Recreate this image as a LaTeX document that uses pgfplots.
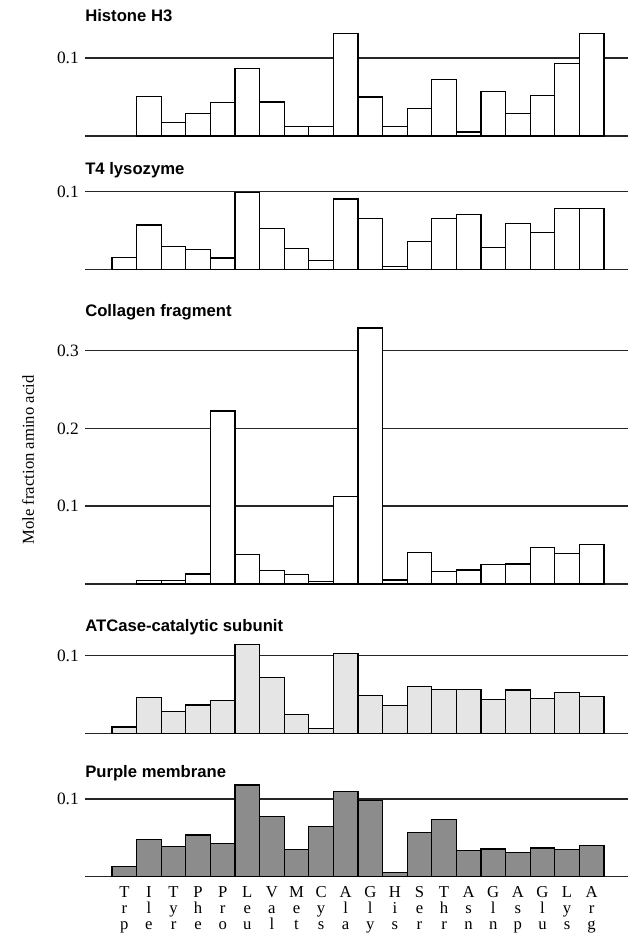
\documentclass[border=0pt]{standalone}
\usepackage{pgfplots}
\pgfplotsset{compat=1.18}
\usepackage{pgfplotstable}
\usepackage{fontspec}
\setmainfont{Liberation Serif}
\newfontfamily\titlefont{Liberation Sans}

\pgfplotstableread{
idx histone t4 collagen atcase purple
0  nan    0.0151 nan    0.0083 0.0136
1  0.0508 0.0573 0.0043 0.0463 0.0481
2  0.0178 0.0293 0.0043 0.0279 0.0387
3  0.0288 0.0259 0.0129 0.0367 0.0536
4  0.0432 0.0147 0.2223 0.0429 0.0426
5  0.0869 0.0987 0.0378 0.1146 0.1179
6  0.0436 0.0522 0.0172 0.0721 0.0770
7  0.0127 0.0267 0.0120 0.0242 0.0345
8  0.0127 0.0112 0.0034 0.0067 0.0647
9  0.1318 0.0905 0.1124 0.1029 0.1098
10 0.0500 0.0651 0.3290 0.0492 0.0979
11 0.0123 0.0043 0.0052 0.0358 0.0055
12 0.0356 0.0358 0.0403 0.0600 0.0570
13 0.0729 0.0660 0.0163 0.0567 0.0736
14 0.0051 0.0707 0.0180 0.0567 0.0332
15 0.0572 0.0280 0.0249 0.0442 0.0357
16 0.0288 0.0586 0.0258 0.0558 0.0315
17 0.0517 0.0478 0.0472 0.0446 0.0370
18 0.0932 0.0784 0.0395 0.0525 0.0353
19 0.1318 0.0784 0.0506 0.0479 0.0404
}\data

\pgfplotsset{
  panel/.style={
    scale only axis, width=407.25pt,
    xmin=-1.6, xmax=20.48, ymin=0,
    axis x line*=bottom, axis y line*=left,
    y axis line style={draw=none},
    x axis line style={-, line width=1.2pt, black!85},
    ymajorgrids, major grid style={line width=1.2pt, black!85},
    major tick length=0pt, xtick=\empty, ytick={0.1},
    /pgf/number format/assume math mode=true,
    yticklabel style={inner sep=0pt, xshift=-4.5pt, font=\fontsize{13}{15}\selectfont},
    ybar, bar width=1, clip=false,
  },
}
\tikzset{
  bars/.style={draw=black, line width=0.9pt, fill=white},
  ttl/.style={anchor=base west, inner sep=0pt, font=\titlefont\bfseries\fontsize{12.5}{14}\selectfont},
}

\begin{document}
\begin{tikzpicture}
\path[use as bounding box] (0,0) rectangle (473.25pt,700.5pt);

% Histone H3
\begin{axis}[panel, at={(63.75pt,598.5pt)}, ymax=0.14, height=81.69pt]
  \addplot[bars] table[x=idx, y=histone] {\data};
  \node[ttl] at (axis cs:-1.6,0.1469) {Histone H3};
\end{axis}

% T4 lysozyme
\begin{axis}[panel, at={(63.75pt,498.375pt)}, ymax=0.11, height=64.19pt]
  \addplot[bars] table[x=idx, y=t4] {\data};
  \node[ttl] at (axis cs:-1.6,0.1227) {T4 lysozyme};
\end{axis}

% Collagen fragment
\begin{axis}[panel, at={(63.75pt,262.5pt)}, ymax=0.34, height=198.39pt, ytick={0.1,0.2,0.3}]
  \addplot[bars] table[x=idx, y=collagen] {\data};
  \node[ttl] at (axis cs:-1.6,0.3432) {Collagen fragment};
\end{axis}

% ATCase
\begin{axis}[panel, at={(63.75pt,150.375pt)}, ymax=0.12, height=70.02pt]
  \addplot[bars, fill=black!10] table[x=idx, y=atcase] {\data};
  \node[ttl] at (axis cs:-1.6,0.1317) {ATCase-catalytic subunit};
\end{axis}

% Purple membrane
\begin{axis}[panel, at={(63.75pt,42.975pt)}, ymax=0.12, height=70.02pt,
  xtick={0,...,19},
  xticklabels={{T\\r\\p},{I\\l\\e},{T\\y\\r},{P\\h\\e},{P\\r\\o},{L\\e\\u},{V\\a\\l},{M\\e\\t},{C\\y\\s},{A\\l\\a},{G\\l\\y},{H\\i\\s},{S\\e\\r},{T\\h\\r},{A\\s\\n},{G\\l\\n},{A\\s\\p},{G\\l\\u},{L\\y\\s},{A\\r\\g}},
  xticklabel style={align=center, inner sep=0pt, anchor=north, yshift=-7pt, font=\fontsize{12.5}{12}\selectfont},
]
  \addplot[bars, fill=black!45] table[x=idx, y=purple] {\data};
  \node[ttl] at (axis cs:-1.6,0.1269) {Purple membrane};
\end{axis}

\node[rotate=90, font=\fontsize{12.5}{14}\selectfont, inner sep=0pt] at (21pt,355.5pt) {Mole fraction amino acid};
\end{tikzpicture}
\end{document}
